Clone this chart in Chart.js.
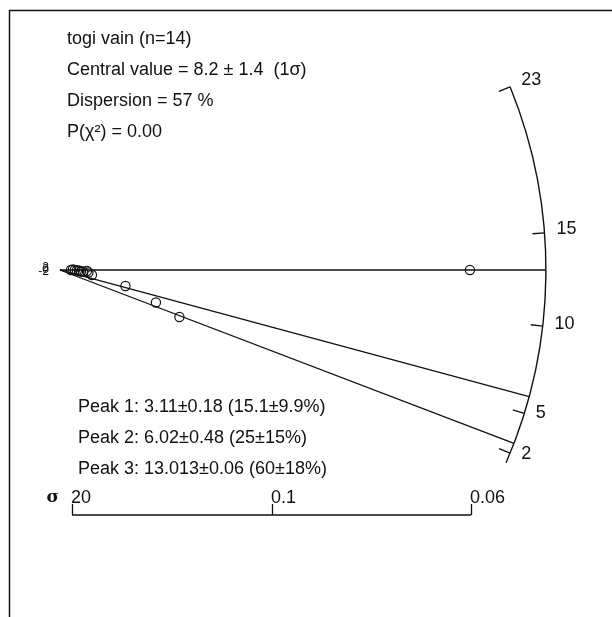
<!DOCTYPE html>
<html>
<head>
<meta charset="utf-8">
<script src="https://cdn.jsdelivr.net/npm/chart.js@4/dist/chart.umd.min.js"></script>
<style>
    html, body { margin: 0; padding: 0; background: #fff; }
    #wrap { width: 612px; height: 617px; }
</style>
</head>
<body>
<div id="wrap"><canvas id="radial"></canvas></div>
<script>
// grain measurements: precision (1/sigma) and standardised estimate
const precision   = [0.446, 0.527, 0.608, 0.689, 0.771, 0.852, 0.933, 1.095, 1.156, 1.298, 2.656, 3.893, 4.846, 16.628];
const stdEstimate = [0, 0.53, 0, -0.53, -0.53, -1.58, -1.58, -1.05, -2.63, -5.26, -16.83, -34.19, -49.44, 0];

// reference value of the horizontal line and the fitted peaks
const refValue = 13.013;
const peakValues = [3.11, 6.02, 13.013];
const peakLabels = [
    'Peak 1: 3.11\u00b10.18 (15.1\u00b19.9%)',
    'Peak 2: 6.02\u00b10.48 (25\u00b115%)',
    'Peak 3: 13.013\u00b10.06 (60\u00b118%)'
];
const infoLines = [
    'togi vain (n=14)',
    'Central value = 8.2 \u00b1 1.4  (1\u03c3)',
    'Dispersion = 57 %',
    'P(\u03c7\u00b2) = 0.00'
];

// radial (value) scale on the arc
const arcRange = [1.81, 23.57];
const arcTickValues = [23.57, 15, 10, 5, 2.46];
const arcTickLabels = ['23', '15', '10', '5', '2'];

// precision axis (labelled in sigma)
const sigmaTickPos = [0.49, 8.6, 16.67];
const sigmaTickLabels = ['20', '0.1', '0.06'];

// standardised estimate ticks
const yTickValues = [-2, 0, 2];

// plot window
const W = 612, H = 617;
const xMin = -2.43, xMax = 22.39;
const zMin = -365, zMax = 284;
const arcRadius = 19.71;     // in precision units
const sigmaAxisZ = -257.7;   // where the sigma axis sits

const pxX = W / (xMax - xMin);
const pxZ = H / (zMax - zMin);
const slopeK = pxZ / pxX;

function angleFor(t) {
    return Math.atan(slopeK * (t - refValue));
}

const peakLines = peakValues.map(t => {
    const a = angleFor(t);
    const rpx = arcRadius * pxX;
    return [{ x: 0, y: 0 }, { x: rpx * Math.cos(a) / pxX, y: rpx * Math.sin(a) / pxZ }];
});

const FONT = '"Liberation Sans", Arial, sans-serif';
const INK = '#111';

const radialDecor = {
    id: 'radialDecor',
    afterDraw(chart) {
        const ctx = chart.ctx;
        const xs = chart.scales.x;
        const ys = chart.scales.y;
        const ox = xs.getPixelForValue(0);
        const oy = ys.getPixelForValue(0);
        const R = xs.getPixelForValue(arcRadius) - ox;
        const k = (oy - ys.getPixelForValue(1)) / (xs.getPixelForValue(1) - ox);
        const ang = t => Math.atan(k * (t - refValue));

        ctx.save();
        ctx.strokeStyle = INK;
        ctx.fillStyle = INK;

        // frame
        ctx.lineWidth = 1.5;
        ctx.beginPath();
        ctx.moveTo(9, 10.5);
        ctx.lineTo(W, 10.5);
        ctx.moveTo(9.5, 10);
        ctx.lineTo(9.5, H);
        ctx.stroke();

        // arc
        ctx.lineWidth = 1.4;
        ctx.beginPath();
        ctx.arc(ox, oy, R, -ang(arcRange[1]), -ang(arcRange[0]));
        ctx.stroke();

        // arc ticks + labels
        ctx.font = '18px ' + FONT;
        ctx.textAlign = 'left';
        ctx.textBaseline = 'middle';
        arcTickValues.forEach((t, i) => {
            const a = ang(t);
            const c = Math.cos(a), s = Math.sin(a);
            const px = ox + R * c;
            const py = oy - R * s;
            ctx.beginPath();
            ctx.moveTo(px, py);
            ctx.lineTo(ox + (R - 12) * c, oy - (R - 12) * s);
            ctx.stroke();
            ctx.fillText(arcTickLabels[i], px + 10 * c + 2, py - 10 * s - 3);
        });

        // sigma axis
        const ay = ys.getPixelForValue(sigmaAxisZ);
        const x0 = xs.getPixelForValue(sigmaTickPos[0]);
        const x1 = xs.getPixelForValue(sigmaTickPos[sigmaTickPos.length - 1]);
        ctx.lineWidth = 1.3;
        ctx.beginPath();
        ctx.moveTo(x0, ay);
        ctx.lineTo(x1, ay);
        sigmaTickPos.forEach(v => {
            const tx = Math.round(xs.getPixelForValue(v)) + 0.5;
            ctx.moveTo(tx, ay);
            ctx.lineTo(tx, ay - 11);
        });
        ctx.stroke();
        ctx.textBaseline = 'alphabetic';
        sigmaTickLabels.forEach((lab, i) => {
            ctx.fillText(lab, xs.getPixelForValue(sigmaTickPos[i]) - 1, ay - 12);
        });
        ctx.textAlign = 'right';
        ctx.font = 'bold 17px "DejaVu Serif", serif';
        ctx.fillText('\u03c3', x0 - 13, ay - 13);

        // standardised estimate labels (collapsed near the origin)
        ctx.font = '12px ' + FONT;
        ctx.textBaseline = 'middle';
        yTickValues.forEach(v => {
            ctx.fillText(String(v), ox - 11, ys.getPixelForValue(v));
        });

        // info text
        ctx.font = '18px ' + FONT;
        ctx.textAlign = 'left';
        ctx.textBaseline = 'alphabetic';
        infoLines.forEach((s, i) => ctx.fillText(s, 67, 44 + i * 31));
        peakLabels.forEach((s, i) => ctx.fillText(s, 78, 412 + i * 31));

        ctx.restore();
    }
};

const datasets = [{
    label: 'grains',
    data: precision.map((p, i) => ({ x: p, y: stdEstimate[i] })),
    pointRadius: 4.6,
    pointBorderWidth: 1.2,
    pointBorderColor: INK,
    pointBackgroundColor: 'rgba(255,255,255,0)',
    showLine: false,
    clip: false
}];
peakLines.forEach((line, i) => {
    datasets.push({
        label: 'Peak ' + (i + 1),
        type: 'line',
        data: line,
        borderColor: INK,
        borderWidth: 1.3,
        pointRadius: 0,
        fill: false,
        tension: 0,
        clip: false
    });
});

new Chart(document.getElementById('radial').getContext('2d'), {
    type: 'scatter',
    data: { datasets },
    options: {
        responsive: true,
        maintainAspectRatio: false,
        animation: false,
        layout: { padding: 0, autoPadding: false },
        plugins: {
            legend: { display: false },
            tooltip: { enabled: false }
        },
        scales: {
            x: { type: 'linear', min: xMin, max: xMax, display: false },
            y: { type: 'linear', min: zMin, max: zMax, display: false }
        }
    },
    plugins: [radialDecor]
});
</script>
</body>
</html>
